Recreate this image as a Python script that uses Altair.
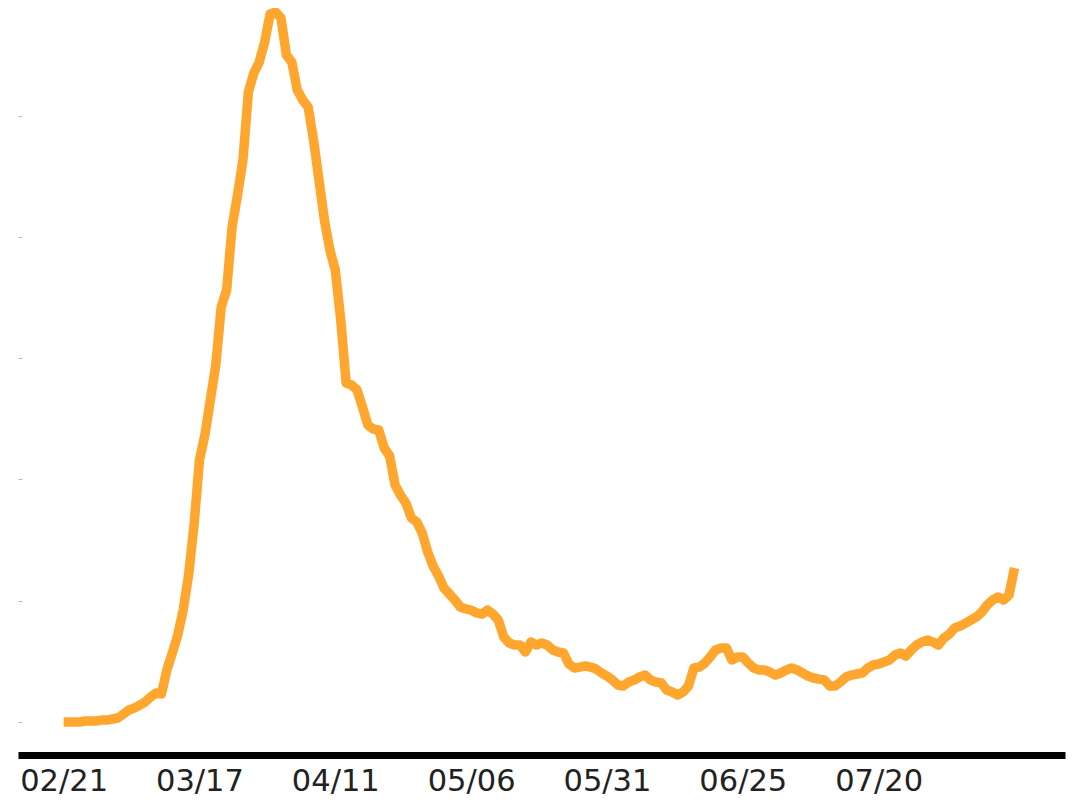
import altair as alt
import pandas as pd

# day index 0 = 2020-02-21, one value per day
values = [0, 0, 0, 0, 8, 8, 8, 16, 16, 25,
          33, 66, 99, 115, 140, 165, 206, 239, 231, 429,
          569, 717, 923, 1212, 1624, 2160, 2366, 2655, 2943, 3421,
          3561, 4081, 4345, 4633, 5194, 5350, 5441, 5606, 5837, 5853,
          5804, 5499, 5441, 5210, 5128, 5070, 4798, 4468, 4138, 3891,
          3726, 3314, 2795, 2778, 2737, 2597, 2448, 2415, 2407, 2259,
          2193, 1954, 1871, 1805, 1682, 1649, 1558, 1401, 1286, 1204,
          1105, 1055, 1006, 948, 932, 923, 899, 890, 923, 890,
          841, 701, 651, 635, 635, 577, 660, 635, 651, 635,
          594, 577, 569, 478, 445, 453, 462, 453, 437, 404,
          379, 346, 305, 297, 330, 346, 371, 387, 346, 330,
          322, 264, 247, 223, 247, 297, 445, 453, 486, 536,
          594, 610, 610, 511, 536, 536, 486, 445, 429, 429,
          412, 387, 404, 429, 445, 429, 404, 379, 363, 354,
          346, 297, 297, 330, 371, 387, 396, 404, 445, 470,
          478, 495, 511, 552, 569, 544, 594, 635, 660, 676,
          660, 635, 692, 725, 775, 791, 816, 841, 866, 907,
          965, 1006, 1031, 1006, 1047, 1270]
days = list(range(len(values)))

tick_days = [0, 25, 50, 75, 100, 125, 150]
tick_labels = ["02/21", "03/17", "04/11", "05/06", "05/31", "06/25", "07/20"]
y_ticks = [0, 1000, 2000, 3000, 4000, 5000]

df = pd.DataFrame({"day": days, "value": values})

label_map = "{" + ",".join(f"'{d}':'{l}'" for d, l in zip(tick_days, tick_labels)) + "}"

chart = alt.Chart(df).mark_line(
    color="#FFA62F", strokeWidth=9.5, strokeJoin="round", strokeCap="butt"
).encode(
    x=alt.X("day:Q",
            scale=alt.Scale(domain=[-8.4, 184.3], nice=False, zero=False),
            axis=alt.Axis(values=tick_days, labelExpr=f"{label_map}[datum.value]",
                          title=None, grid=False, ticks=False,
                          domainColor="black", domainWidth=7,
                          labelFont="DejaVu Sans", labelFontSize=30.5,
                          labelColor="#222222", labelPadding=11,
                          labelOverlap=False, labelFlush=False)),
    y=alt.Y("value:Q",
            scale=alt.Scale(domain=[-272, 5870], nice=False, zero=False),
            axis=alt.Axis(values=y_ticks, labels=False, title=None, grid=False,
                          domain=False, ticks=True, tickSize=4, tickWidth=1,
                          tickColor="#bbbbbb", offset=-4)),
).properties(
    width=1047, height=745,
    autosize=alt.AutoSizeParams(type="none"),
    padding={"left": 10, "top": 2, "right": 1, "bottom": 45},
).configure_view(stroke=None)

chart.save("out.html", embed_options={"renderer": "svg", "actions": False})
